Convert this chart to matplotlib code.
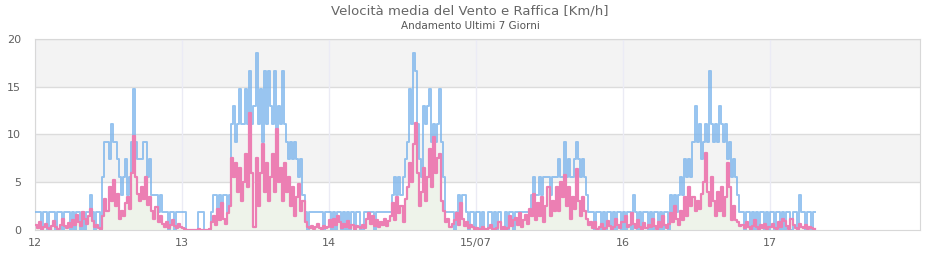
import numpy as np
import matplotlib
matplotlib.use('Agg')
import matplotlib.pyplot as plt

# raffica (gust) in nodi, one value every 20 minutes, per day
raffica_12 = [1,1,1,0,1,1,0,1,1,1,0,1,1,0,1,1,1,0,1,0,1,1,0,1,0,1,1,2,1,0,1,1,0,
              3,5,5,4,6,5,5,4, 3,2,3,4,2,3, 5,8,5,4, 4,4,5,5,3,4, 2,2,2,1,2,1,
              1,1,0,1,1,0,1,1,1]
raffica_13 = [1,1,0,0,0,0,0,0,1,1,1,0,0,0,1,2,2,1,2,1,2,2,1,2,
              6,7,5,6,8,6,6,8,6,9,6,7,10,6,8,5,9,6,9,7,6,9,5,7,6,9,6,
              5,4,5,4,5, 4,3,4,2,1,0, 1,1,1,1,1,1,1,0,1,1]
raffica_14 = [1,0,1,0,1,1,0,1,0,1,0,1,0,1,1,0,0,1,1,1,1,1,0,1,1,1,1,1,1,1,
              1,2,3,2, 3,2,3, 4,5, 8,6,10,9,6, 4,3,7,6,7, 8,5,6,5,6, 8, 5,3,
              1,1,1,1,0,1,2,1,2,2,1,0,1,1,0]
raffica_15 = [1,1,0,1,0,0,1,1,0,1,0,1,0,0,1,0,1,1,0,
              1,1,1,1,1,1,1,1, 2,3,2,2,3,2,3, 3,3,2,3,3, 3,4,3,3,5,
              3,4,3,3,4, 5, 4,3,4,3, 2,1,1,
              1,0,1,1,0,1,0,1,1,0,1,0,1,1,0]
raffica_16 = [1,0,1,1,0,2,1,0,1,0,1,1,0, 1,0,1,1,0,1,0,1,1,0,
              2,1,2,1,2, 3,2,4,3,4,
              3,5,7,5,6,4,5,6,5,9,6,5,6,5,7,6,5,6,4,5,3,4,3,2,1,
              1,0,1,1,0,1,0,1,0,1,1,0,1,0]
raffica_17 = [1,1,0,1,1,0,1,0,1,1,0,1,1,0,2,1,1,0,1,1,0,1]

# velocita media in km/h
media_12 = [0.5,0.2,0.8,0.1,0.3,0.6,0.2,0.0,0.4,0.9,0.3,0.1,0.5,1.2,0.4,0.2,0.7,0.3,1.0,0.5,
            1.6,0.8,0.4,1.9,1.1,0.6,1.5,2.2,0.9,0.3,0.5,0.2,0.1,
            1.5,3.2,2.0,4.5,3.0,5.2,2.5,3.8, 1.2,2.0,1.5,2.8,3.5,2.2, 6.0,9.8,5.5,3.8,
            3.0,4.5,3.2,5.5,2.6,3.5, 2.0,1.2,2.4,0.8,1.5,0.6,
            0.3,0.8,0.2,0.5,1.0,0.4,0.2,0.6,0.3]
media_13 = [0.2,0.1,0.0,0.0,0.0,0.0,0.0,0.0,0.1,0.0,0.0,0.0,0.0,0.1,
            0.8,1.5,0.5,2.2,1.0,2.8,1.2,0.6,1.8,2.5,
            7.5,5.5,7.0,4.0,6.5,3.0,5.0,8.0,4.5,12.3,6.0,0.3,7.5,2.5,6.0,9.0,4.0,7.0,3.0,5.5,
            8.0,4.0,10.6,5.0,6.5,3.0,7.0,
            4.0,5.5,2.5,4.5,1.5,3.5,4.8,2.0,
            3.0,0.8,0.3,0.2,0.4,0.1,0.3,0.6,0.2,0.1,0.4,0.2,0.3]
media_14 = [1.0,0.3,1.2,0.5,1.5,0.8,0.2,0.6,0.3,0.9,0.2,0.5,0.1,0.4,0.3,0.2,0.5,0.2,1.2,1.8,
            0.6,1.5,0.4,1.0,0.3,0.8,0.5,1.2,0.4,0.9,
            1.5,2.8,1.0,3.5,1.8,2.5,0.8,3.2,4.5, 7.0,5.0,9.0,11.2,6.0,
            2.5,4.0,6.5,3.0,5.5, 8.5,4.5,9.7,6.0,7.5, 8.0, 3.0,2.0,
            0.8,1.2,0.3,0.6,1.0,1.8,0.5,2.8,1.2,0.4,0.8,0.2,0.5,0.3,0.1]
media_15 = [0.2,0.1,0.0,0.3,0.1,0.0,0.2,0.5,0.1,0.0,0.2,0.8,0.1,0.3,0.0,0.2,1.5,0.4,1.0,
            1.3,0.5,1.8,0.3,1.0,1.6,0.6,2.2, 1.5,3.8,1.0,2.8,1.5,3.5,0.8,
            2.5,4.5,1.5,3.0,2.0, 4.5,2.0,5.0,3.5,5.8, 2.5,4.5,1.2,3.5,2.2, 6.4,
            3.0,1.5,3.5,2.0, 1.2,0.5,0.8,
            0.2,0.8,0.1,0.3,0.6,0.1,0.2,0.9,0.4,0.1,0.3,1.2,0.5,0.2,0.8]
media_16 = [0.8,1.5,0.3,0.5,1.8,0.6,0.2,1.0,0.3,0.1,0.7,0.2,0.5,
            0.3,1.2,0.4,0.1,0.8,0.3,1.5,0.5,0.2,0.6,
            1.8,0.8,2.5,1.2,0.5, 2.0,1.0,3.5,1.5,4.5,
            2.5,3.5,2.0,3.0,2.2,3.8,5.0,8.1,4.0,2.5,5.5,3.0,1.5,4.0,2.0,4.5,1.5,3.5,7.0,4.5,
            1.0,2.5,1.0,0.8,0.4,
            0.5,0.2,0.8,0.3,0.1,0.4,1.0,0.3,0.1,0.5,0.2,0.6,0.1,0.3]
media_17 = [0.3,0.6,0.2,0.1,0.8,0.3,1.1,0.9,0.4,0.1,1.2,0.5,0.2,0.1,0.6,0.3,0.2,0.5,0.1,0.3,0.2,0.1]

giorni = [12, 13, 14, 15, 16, 17]
tick_labels = ['12', '13', '14', '15/07', '16', '17']
KNOT = 1.852  # km/h per nodo

raffica = [raffica_12, raffica_13, raffica_14, raffica_15, raffica_16, raffica_17]
media = [media_12, media_13, media_14, media_15, media_16, media_17]

t_l, g_l, m_l = [], [], []
for d, g, m in zip(giorni, raffica, media):
    t_l.append(d + np.arange(len(g)) / 72.0)
    g_l.append(np.array(g) * KNOT)
    m_l.append(np.array(m))
t = np.concatenate(t_l)
gust = np.concatenate(g_l)
mean = np.concatenate(m_l)
# close the last step
t = np.append(t, t[-1] + 1 / 72.0)
gust = np.append(gust, gust[-1])
mean = np.append(mean, mean[-1])

plt.rcParams['font.family'] = ['DejaVu Sans']
fig = plt.figure(figsize=(9.4, 2.6), dpi=100)
ax = fig.add_axes([35 / 940, 30 / 260, 885 / 940, 191 / 260])

ax.axhspan(5, 10, color='#f3f3f3', zorder=0, lw=0)
ax.axhspan(15, 20, color='#f3f3f3', zorder=0, lw=0)
for y in [5, 10, 15, 20]:
    ax.axhline(y, color='#dcdcdc', lw=1, zorder=1)
for d in giorni:
    ax.axvline(d, color='#ebebf5', lw=1, zorder=1)

ax.fill_between(t, mean, step='post', color='#eef3ea', lw=0, zorder=2)
ax.plot(t, gust, drawstyle='steps-post', color='#7cb5ec', lw=1.4, alpha=0.8, zorder=3)
ax.plot(t, mean, drawstyle='steps-post', color='#ec7fb3', lw=1.6, zorder=4)

ax.set_xlim(12, 18.02)
ax.set_ylim(0, 20)
ax.set_yticks([0, 5, 10, 15, 20])
ax.set_xticks(giorni)
ax.set_xticklabels(tick_labels)
ax.tick_params(length=0, labelsize=8, colors='#606060', pad=6)
ax.tick_params(axis='y', pad=10)
for s in ax.spines.values():
    s.set_color('#d8d8d8')

fig.text(0.5, 1 - 11 / 260, 'Velocità media del Vento e Raffica [Km/h]', ha='center', va='center',
         fontsize=9.5, color='#666666')
fig.text(0.5, 1 - 26 / 260, 'Andamento Ultimi 7 Giorni', ha='center', va='center',
         fontsize=7.5, color='#555555')

fig.savefig('out.png', dpi=100)
